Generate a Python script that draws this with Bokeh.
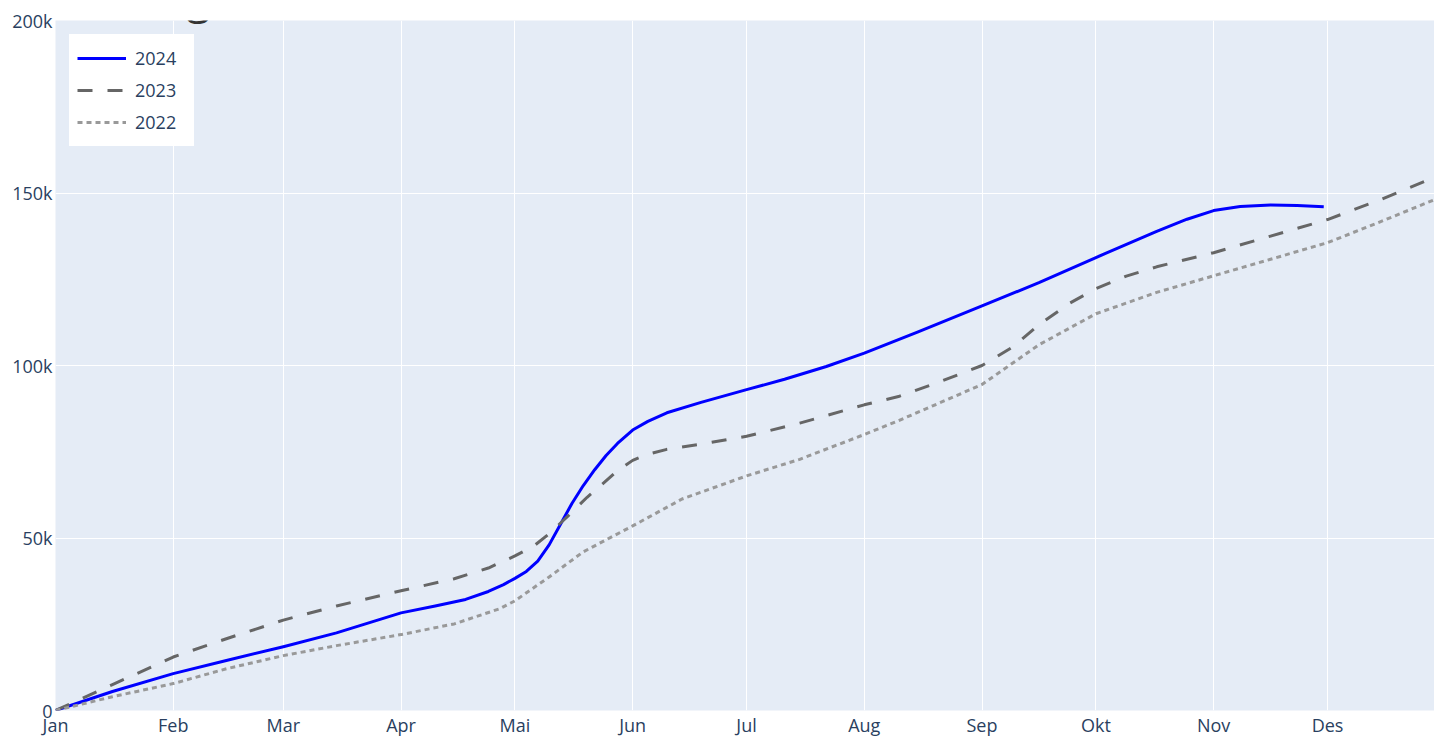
import pandas as pd
from bokeh.plotting import figure
from bokeh.models import FixedTicker, Range1d, Legend, LegendItem, Label
from bokeh.embed import file_html
from bokeh.resources import INLINE

# ---------------- data ----------------
month_labels = ["Jan", "Feb", "Mar", "Apr", "Mai", "Jun", "Jul", "Aug", "Sep", "Okt", "Nov", "Des"]
month_starts = ["2024-01-01", "2024-02-01", "2024-03-01", "2024-04-01", "2024-05-01", "2024-06-01",
                "2024-07-01", "2024-08-01", "2024-09-01", "2024-10-01", "2024-11-01", "2024-12-01"]

y_ticks = [0, 50000, 100000, 150000, 200000]
y_tick_labels = ["0", "50k", "100k", "150k", "200k"]

series_names = ["2024", "2023", "2022"]

dates_2024 = ["2024-01-01", "2024-01-16", "2024-02-01", "2024-02-15", "2024-03-01", "2024-03-15",
              "2024-04-01", "2024-04-10", "2024-04-18", "2024-04-24", "2024-04-28", "2024-05-01",
              "2024-05-04", "2024-05-07", "2024-05-10", "2024-05-13", "2024-05-16", "2024-05-19",
              "2024-05-22", "2024-05-25", "2024-05-28", "2024-06-01", "2024-06-05", "2024-06-10",
              "2024-06-19", "2024-07-01", "2024-07-11", "2024-07-22", "2024-08-01", "2024-08-15",
              "2024-09-01", "2024-09-16", "2024-10-01", "2024-10-17", "2024-10-25", "2024-11-01",
              "2024-11-08", "2024-11-16", "2024-11-23", "2024-11-30"]
values_2024 = [0, 5500, 10700, 14500, 18500, 22500,
               28300, 30300, 32200, 34500, 36500, 38300,
               40300, 43300, 48000, 54000, 60000, 65200,
               69800, 73900, 77400, 81300, 83800, 86300,
               89300, 93000, 96000, 99700, 103600, 109700,
               117300, 124000, 131300, 138900, 142400, 144900,
               146100, 146500, 146400, 146000]

dates_2023 = ["2024-01-01", "2024-01-16", "2024-02-01", "2024-02-15", "2024-03-01", "2024-03-15",
              "2024-04-01", "2024-04-15", "2024-04-24", "2024-05-01", "2024-05-06", "2024-05-10",
              "2024-05-15", "2024-05-20", "2024-05-24", "2024-05-28", "2024-06-01", "2024-06-05",
              "2024-06-10", "2024-06-19", "2024-07-01", "2024-07-15", "2024-08-01", "2024-08-10",
              "2024-08-20", "2024-09-01", "2024-09-09", "2024-09-16", "2024-09-24", "2024-10-01",
              "2024-10-09", "2024-10-17", "2024-11-01", "2024-11-16", "2024-12-01", "2024-12-15",
              "2024-12-29"]
values_2023 = [0, 7500, 15500, 20800, 26200, 30300,
               34700, 38200, 41300, 44800, 47700, 51200,
               56400, 61800, 65600, 69500, 72500, 74300,
               75700, 77200, 79500, 83300, 88600, 91000,
               94900, 100000, 105300, 111800, 118000, 122300,
               125900, 128600, 132700, 137500, 142300, 148100,
               154500]

dates_2022 = ["2024-01-01", "2024-01-16", "2024-02-01", "2024-02-15", "2024-03-01", "2024-03-15",
              "2024-04-01", "2024-04-15", "2024-04-27", "2024-05-01", "2024-05-10", "2024-05-19",
              "2024-06-01", "2024-06-14", "2024-07-01", "2024-07-15", "2024-08-01", "2024-08-10",
              "2024-08-19", "2024-09-01", "2024-09-16", "2024-10-01", "2024-10-17", "2024-11-01",
              "2024-11-16", "2024-12-01", "2024-12-15", "2024-12-29"]
values_2022 = [0, 4000, 7800, 12100, 15900, 18800,
               22000, 25100, 29500, 31800, 38700, 46000,
               53500, 61300, 68000, 72800, 80000, 84000,
               88300, 94500, 106000, 115000, 121200, 126000,
               130800, 135600, 141700, 148000]

x_start = "2024-01-01"
x_end = "2024-12-29 04:00"

title_fragment = "g"
note_fragment = "grengangsgave på Vipps til 12152."

# ---------------- styling ----------------
FONT = "Open Sans"
TEXT_COLOR = "#2a3f5f"

p = figure(
    width=1434, height=739,
    x_axis_type="datetime",
    output_backend="svg",
    toolbar_location=None,
    x_range=Range1d(pd.Timestamp(x_start), pd.Timestamp(x_end)),
    y_range=Range1d(0, 200000),
    min_border_left=55, min_border_right=0, min_border_top=20, min_border_bottom=27,
)
p.background_fill_color = "#E5ECF6"
p.border_fill_color = "white"
p.outline_line_color = None

# grids
p.xgrid.grid_line_color = "white"
p.ygrid.grid_line_color = "white"
p.xgrid.grid_line_width = 1
p.ygrid.grid_line_width = 1

# x axis
month_ms = [int(pd.Timestamp(d).value // 10**6) for d in month_starts]
p.xaxis.ticker = FixedTicker(ticks=month_ms)
p.xaxis.major_label_overrides = {ms: lab for ms, lab in zip(month_ms, month_labels)}
# y axis
p.yaxis.ticker = FixedTicker(ticks=y_ticks)
p.yaxis.major_label_overrides = {t: lab for t, lab in zip(y_ticks, y_tick_labels)}

for ax in (p.xaxis[0], p.yaxis[0]):
    ax.axis_line_color = None
    ax.major_tick_line_color = None
    ax.minor_tick_line_color = None
    ax.major_tick_out = 0
    ax.major_tick_in = 0
    ax.axis_label = None
    ax.axis_label_standoff = 0
    ax.major_label_text_font = FONT
    ax.major_label_text_font_size = "18px"
    ax.major_label_text_color = TEXT_COLOR
p.xaxis.major_label_standoff = 2
p.yaxis.major_label_standoff = 3

r2024 = p.line(pd.to_datetime(dates_2024), values_2024, line_color="#0000ff", line_width=3,
               line_join="round")
r2023 = p.line(pd.to_datetime(dates_2023), values_2023, line_color="#666666", line_width=3,
               line_dash="15 15", line_join="round")
r2022 = p.line(pd.to_datetime(dates_2022), values_2022, line_color="#999999", line_width=3,
               line_dash="5 4", line_join="round")

# white border acts as the legend's inner padding
legend = Legend(
    items=[LegendItem(label=series_names[0], renderers=[r2024]),
           LegendItem(label=series_names[1], renderers=[r2023]),
           LegendItem(label=series_names[2], renderers=[r2022])],
    location="top_left",
    margin=14, padding=0, spacing=0,
    glyph_width=49, glyph_height=32, label_height=32, label_width=51, label_standoff=9,
    label_text_font=FONT, label_text_font_size="18px", label_text_color=TEXT_COLOR,
    background_fill_color="white", background_fill_alpha=1.0,
    border_line_color="white", border_line_width=8, border_line_join="miter",
)
p.add_layout(legend)

# clipped title / note fragments at the very top of the page
p.add_layout(Label(x=pd.Timestamp("2024-02-04 12:00"), y=207000, text=title_fragment,
                   text_font=FONT, text_font_size="44px", text_color="#333333",
                   text_baseline="alphabetic", text_align="left"))
p.add_layout(Label(x=pd.Timestamp("2024-08-04"), y=204050, text=note_fragment,
                   text_font=FONT, text_font_size="18px", text_color="#333333",
                   text_baseline="alphabetic", text_align="left"))

open("out.html", "w").write(file_html(p, INLINE))
